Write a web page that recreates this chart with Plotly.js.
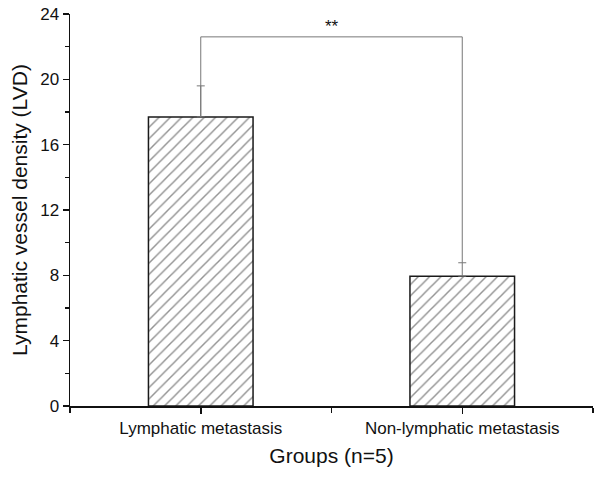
<!DOCTYPE html>
<html>
<head>
<meta charset="utf-8">
<script src="https://cdn.plot.ly/plotly-3.0.1.min.js"></script>
<style>html,body{margin:0;padding:0;background:#fff}</style>
</head>
<body>
<div id="chart" style="width:600px;height:477px"></div>
<script>
var categories = ["Lymphatic metastasis", "Non-lymphatic metastasis"];
var positions = [0, 1];
var values = [17.7, 7.95];
var errors = [1.9, 0.82];
var bracketLevel = [22.6];
var significance = ["**"];
var yTicks = [0, 4, 8, 12, 16, 20, 24];

var bars = {
  type: "bar",
  x: positions,
  y: values,
  width: 0.4,
  marker: {
    color: "white",
    line: {color: "#1a1a1a", width: 1.5},
    pattern: {shape: "/", size: 8, solidity: 0.18, fgcolor: "#262626", bgcolor: "white", fillmode: "overlay"}
  },
  error_y: {
    type: "data",
    symmetric: false,
    array: errors,
    arrayminus: [0, 0],
    color: "#777",
    thickness: 1,
    width: 4
  },
  showlegend: false,
  hoverinfo: "skip"
};

var bracket = {
  type: "scatter",
  mode: "lines",
  x: [positions[0], positions[0], positions[1], positions[1]],
  y: [values[0], bracketLevel[0], bracketLevel[0], values[1] + errors[1]],
  line: {color: "#777", width: 1},
  showlegend: false,
  hoverinfo: "skip"
};

var layout = {
  width: 600,
  height: 477,
  margin: {l: 70, r: 7, t: 14, b: 71},
  paper_bgcolor: "white",
  plot_bgcolor: "white",
  font: {family: "Liberation Sans, Arial, sans-serif", color: "#111"},
  xaxis: {
    range: [-0.5, 1.5],
    tickvals: positions,
    ticktext: categories,
    ticks: "outside",
    ticklen: 6,
    tickwidth: 1.5,
    tickcolor: "#111",
    tickfont: {size: 17, color: "#111"},
    showline: true,
    linecolor: "#111",
    linewidth: 1.5,
    showgrid: false,
    zeroline: false,
    minor: {tickvals: [-0.5, 0.5, 1.5], ticks: "outside", ticklen: 5, tickwidth: 1.5, tickcolor: "#111", showgrid: false},
    title: {text: "Groups (n=5)", font: {size: 21, color: "#111"}, standoff: 11}
  },
  yaxis: {
    range: [0, 24],
    tickvals: yTicks,
    ticks: "outside",
    ticklen: 6,
    tickwidth: 1.5,
    tickcolor: "#111",
    tickfont: {size: 17, color: "#111"},
    showline: true,
    linecolor: "#111",
    linewidth: 1.5,
    showgrid: false,
    zeroline: false,
    minor: {dtick: 2, ticks: "outside", ticklen: 4, tickwidth: 1.5, tickcolor: "#111", showgrid: false},
    title: {text: "Lymphatic vessel density (LVD)", font: {size: 21, color: "#111"}, standoff: 7}
  },
  annotations: [{
    x: (positions[0] + positions[1]) / 2,
    y: bracketLevel[0],
    xref: "x", yref: "y",
    text: significance[0],
    showarrow: false,
    yanchor: "bottom",
    yshift: -1,
    font: {size: 17, color: "#111"}
  }]
};

Plotly.newPlot("chart", [bars, bracket], layout, {displayModeBar: false, staticPlot: true});
</script>
</body>
</html>
